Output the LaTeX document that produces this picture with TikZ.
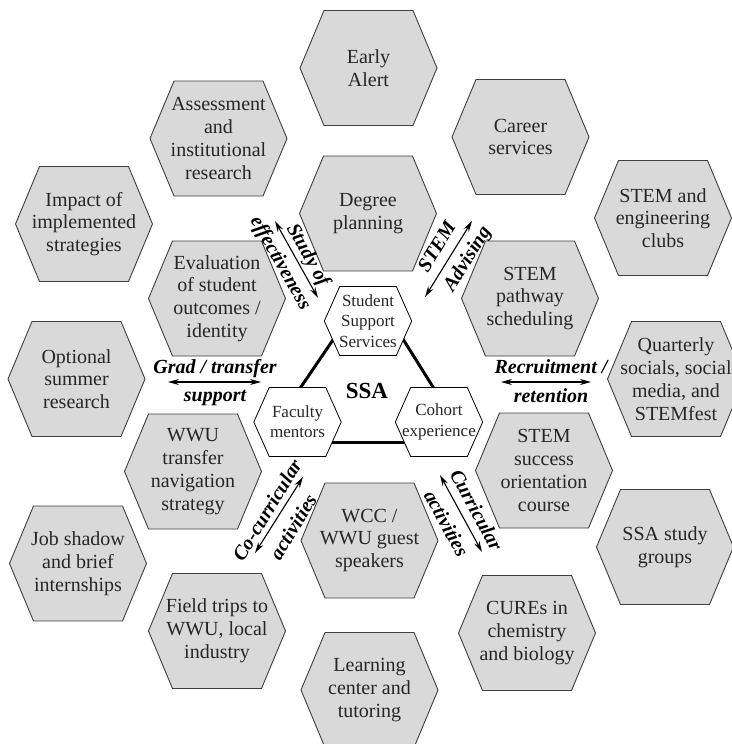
\documentclass[tikz,border=0pt]{standalone}
\usepackage{fontspec}
\setmainfont{Liberation Serif}
\usetikzlibrary{arrows.meta}
\definecolor{hexfill}{HTML}{D9D9D9}
\definecolor{hexedge}{HTML}{3F3F3F}
\definecolor{txtc}{HTML}{262626}
\tikzset{
  hexo/.style={fill=hexfill, draw=hexedge, line width=0.9pt, line join=miter},
  hexi/.style={fill=white, draw=black, line width=0.8pt, line join=miter},
  outertext/.style={inner sep=0pt, align=center, text=txtc, font=\fontsize{20}{22.8}\selectfont},
  innertext/.style={inner sep=0pt, align=center, text=txtc, font=\fontsize{17}{20.3}\selectfont},
  dblarrow/.style={{Stealth[length=11pt,width=6pt]}-{Stealth[length=11pt,width=6pt]}, line width=1.1pt},
  arrlabel/.style={inner sep=0pt, font=\fontsize{20}{22}\selectfont\bfseries\itshape},
  triline/.style={line width=3pt},
}
% outer grey hexagon + named text node
\newcommand\ohex[4]{%
  \filldraw[hexo, shift={(#2,#3)}] (-68.5,0) -- (-44.5,-57.5) -- (44.5,-57.5) -- (68.5,0)
      -- (44.5,57.5) -- (-44.5,57.5) -- cycle;
  \node[outertext] (#1) at (#2,#3) {#4};}
% inner white hexagon + named text node
\newcommand\ihex[4]{%
  \filldraw[hexi, shift={(#2,#3)}] (-43.7,0) -- (-28.3,-34.5) -- (28.3,-34.5) -- (43.7,0)
      -- (28.3,34.5) -- (-28.3,34.5) -- cycle;
  \node[innertext] (#1) at (#2,#3) {#4};}
\begin{document}
\begin{tikzpicture}[x=1pt, y=-1pt]
\fill[white] (0,0) rectangle (731,744);
\useasboundingbox (0,0) rectangle (731,744);

% outer grey hexagons
\ohex{early}{368.5}{68}{Early\\Alert}
\ohex{assess}{218.5}{138.5}{Assessment\\and\\institutional\\research}
\ohex{career}{520.5}{137}{Career\\services}
\ohex{degree}{368}{213.5}{Degree\\planning}
\ohex{impact}{84}{224}{Impact of\\implemented\\strategies}
\ohex{clubs}{663}{218}{STEM and\\engineering\\clubs}
\ohex{eval}{217}{298.5}{Evaluation\\of student\\outcomes /\\identity}
\ohex{pathway}{530}{298.5}{STEM\\pathway\\scheduling}
\ohex{optional}{76.5}{379}{Optional\\summer\\research}
\ohex{quarterly}{676}{379}{Quarterly\\socials, social\\media, and\\STEMfest}
\ohex{transfer}{193}{471.5}{WWU\\transfer\\navigation\\strategy}
\ohex{success}{544}{470.5}{STEM\\success\\orientation\\course}
\ohex{wcc}{369.5}{540.5}{WCC /\\WWU guest\\speakers}
\ohex{studygr}{665}{547}{SSA study\\groups}
\ohex{job}{78}{563.5}{Job shadow\\and brief\\internships}
\ohex{field}{217}{631}{Field trips to\\WWU, local\\industry}
\ohex{cures}{527}{633}{CUREs in\\chemistry\\and biology}
\ohex{learning}{369.5}{690}{Learning\\center and\\tutoring}

% central triangle
\coordinate (l1) at (339.7,330);
\coordinate (l2) at (295.5,395);
\coordinate (r1) at (397.3,330);
\coordinate (r2) at (438,395);
\coordinate (b1) at (325,442.7);
\coordinate (b2) at (412,442.7);
\draw[triline] (l1) -- (l2);
\draw[triline] (r1) -- (r2);
\draw[triline] (b1) -- (b2);

\ihex{sss}{368}{321}{Student\\Support\\Services}
\ihex{fac}{297.5}{422}{Faculty\\mentors}
\ihex{coh}{439}{422}{Cohort\\experience}
\node[font=\fontsize{23}{26}\selectfont\bfseries, text=black, anchor=base, inner sep=0pt] (ssa) at (367,398) {SSA};

% arrows
\coordinate (se1) at (275,221);
\coordinate (se2) at (318,298);
\coordinate (sa1) at (425,297);
\coordinate (sa2) at (472,221);
\coordinate (gt1) at (168,382);
\coordinate (gt2) at (261,382);
\coordinate (rr1) at (501,382);
\coordinate (rr2) at (591,382);
\coordinate (cc1) at (303,477);
\coordinate (cc2) at (255,553);
\coordinate (cu1) at (440,475);
\coordinate (cu2) at (482,552);
\draw[dblarrow] (se1) -- (se2);
\draw[dblarrow] (sa1) -- (sa2);
\draw[dblarrow] (gt1) -- (gt2);
\draw[dblarrow] (rr1) -- (rr2);
\draw[dblarrow] (cc1) -- (cc2);
\draw[dblarrow] (cu1) -- (cu2);

% arrow labels
\node[arrlabel, rotate=-60.5] (lstudy) at (307.5,255.5) {Study of};
\node[arrlabel, rotate=-60.5] (leff) at (280,263.5) {effectiveness};
\node[arrlabel, rotate=58.4] (lstem) at (436.5,246.5) {STEM};
\node[arrlabel, rotate=58.4] (ladv) at (468,259.5) {Advising};
\node[arrlabel, anchor=base] (lgrad) at (215,373) {Grad / transfer};
\node[arrlabel, anchor=base] (lsupport) at (215,401) {support};
\node[arrlabel, anchor=base] (lrecr) at (551,373) {Recruitment /};
\node[arrlabel, anchor=base] (lret) at (551,402) {retention};
\node[arrlabel, rotate=58.6] (lcoc) at (267,510) {Co-curricular};
\node[arrlabel, rotate=58.6] (lcoact) at (293,527) {activities};
\node[arrlabel, rotate=-61.5] (lcur) at (476.5,510) {Curricular};
\node[arrlabel, rotate=-61.5] (lcuract) at (446.5,523.5) {activities};
\end{tikzpicture}
\end{document}
